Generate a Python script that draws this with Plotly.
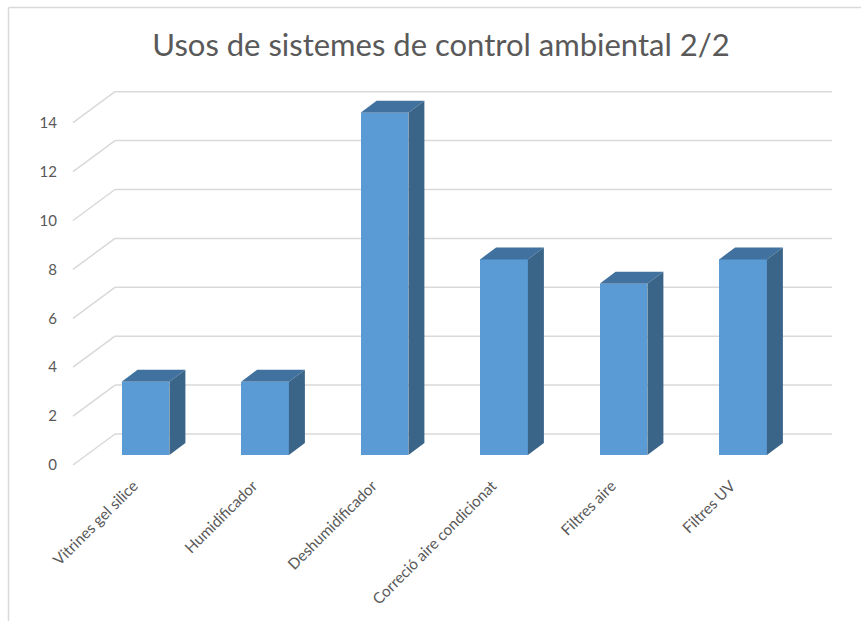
import plotly.graph_objects as go

# ---- data ----
categories = ["Vitrines gel silice", "Humidificador", "Deshumidificador",
              "Correció aire condicionat", "Filtres aire", "Filtres UV"]
values = [3, 3, 14, 8, 7, 8]
y_ticks = [0, 2, 4, 6, 8, 10, 12, 14]
title_text = "Usos de sistemes de control ambiental 2/2"

# ---- geometry / style (pixels -> data units) ----
W, H = 861, 621
ML, MR, MT, MB = 68, 22, 80, 153
PX_X = 119.5          # pixels per category
PX_Y = 24.45          # pixels per value unit
X0_PX = 145.5         # pixel of first category centre
Y0_PX = 455           # pixel of value 0 (bar front plane)
plot_w = W - ML - MR
plot_h = H - MT - MB
x_lo = -(X0_PX - ML) / PX_X
x_hi = x_lo + plot_w / PX_X
y_lo = -(MT + plot_h - Y0_PX) / PX_Y
y_hi = y_lo + plot_h / PX_Y

BAR_W = 0.4
BAR_DX = 16 / PX_X
BAR_DY = 12 / PX_Y
FRONT_DX, FRONT_DY = -12.75 / PX_X, -10 / PX_Y
BACK_DX, BACK_DY = 29.25 / PX_X, 21 / PX_Y

FRONT_C = "#5B9BD5"
TOP_C = "#41729F"
SIDE_C = "#3A6488"
GRID_C = "#D9D9D9"
TEXT_C = "#595959"
FONT = "Lato"

fig = go.Figure()

# gridlines (shapes drawn below traces)
n = len(categories)
shapes = []
for t in y_ticks:
    xf, yf = -0.5 + FRONT_DX, t + FRONT_DY
    xb, yb = -0.5 + BACK_DX, t + BACK_DY
    xe = n - 0.5 + BACK_DX
    shapes.append(dict(type="line", xref="x", yref="y", x0=xf, y0=yf, x1=xb, y1=yb,
                       line=dict(color=GRID_C, width=1.5), layer="below"))
    shapes.append(dict(type="line", xref="x", yref="y", x0=xb, y0=yb, x1=xe, y1=yb,
                       line=dict(color=GRID_C, width=1.5), layer="below"))

# chart border (partially visible, top and left)
def px_to_paper_x(px):
    return (px - ML) / plot_w

def px_to_paper_y(py):
    return (MT + plot_h - py) / plot_h

shapes.append(dict(type="line", xref="paper", yref="paper",
                   x0=px_to_paper_x(8.5), y0=px_to_paper_y(7.5),
                   x1=px_to_paper_x(880), y1=px_to_paper_y(7.5),
                   line=dict(color=GRID_C, width=1.5)))
shapes.append(dict(type="line", xref="paper", yref="paper",
                   x0=px_to_paper_x(8.5), y0=px_to_paper_y(7.5),
                   x1=px_to_paper_x(8.5), y1=px_to_paper_y(640),
                   line=dict(color=GRID_C, width=1.5)))

# front faces
xs = list(range(n))
fig.add_trace(go.Bar(x=xs, y=values, width=BAR_W, marker=dict(color=FRONT_C, line=dict(width=0)),
                     hoverinfo="skip", showlegend=False))

# top and side faces
for i, v in enumerate(values):
    l, r = i - BAR_W / 2, i + BAR_W / 2
    fig.add_trace(go.Scatter(
        x=[l, r, r + BAR_DX, l + BAR_DX, l], y=[v, v, v + BAR_DY, v + BAR_DY, v],
        fill="toself", fillcolor=TOP_C, mode="lines", line=dict(width=0, color=TOP_C),
        hoverinfo="skip", showlegend=False, cliponaxis=False))
    fig.add_trace(go.Scatter(
        x=[r, r + BAR_DX, r + BAR_DX, r, r], y=[0, BAR_DY, v + BAR_DY, v, 0],
        fill="toself", fillcolor=SIDE_C, mode="lines", line=dict(width=0, color=SIDE_C),
        hoverinfo="skip", showlegend=False, cliponaxis=False))

fig.update_layout(
    width=W, height=H,
    margin=dict(l=ML, r=MR, t=MT, b=MB, autoexpand=False),
    paper_bgcolor="white", plot_bgcolor="white",
    shapes=shapes,
    showlegend=False,
    title=dict(text=title_text, x=441 / W, xref="container", xanchor="center",
               y=1 - 45 / H, yref="container", yanchor="middle",
               font=dict(family=FONT, size=31, color=TEXT_C)),
    xaxis=dict(range=[x_lo, x_hi], tickmode="array", tickvals=xs, ticktext=categories,
               tickangle=-45, showgrid=False, zeroline=False, showline=False, ticks="",
               tickfont=dict(family=FONT, size=15.3, color=TEXT_C),
               ticklabelshift=-12, ticklabelstandoff=5),
    yaxis=dict(range=[y_lo, y_hi], tickmode="array", tickvals=y_ticks,
               showgrid=False, zeroline=False, showline=False, ticks="",
               tickfont=dict(family=FONT, size=15, color=TEXT_C),
               ticklabelshift=10, ticklabelstandoff=10),
    bargap=0,
)

fig.write_html("out.html", config={"displayModeBar": False},
               post_script="document.body.style.margin='0';")
